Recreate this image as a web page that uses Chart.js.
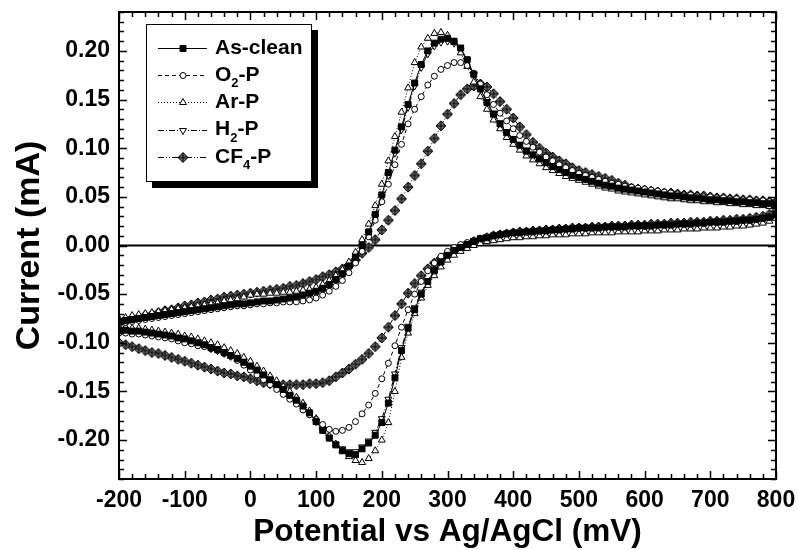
<!DOCTYPE html>
<html><head><meta charset="utf-8">
<script src="https://cdn.jsdelivr.net/npm/chart.js@4.4.0/dist/chart.umd.min.js"></script>
<style>html,body{margin:0;padding:0;background:#fff}canvas{display:block}</style>
</head><body>
<canvas id="c" width="798" height="550"></canvas>
<script>
// ---------- data ----------
const potential = [
-200,-190,-180,-170,-160,-150,-140,-130,-120,-110,
-100,-90,-80,-70,-60,-50,-40,-30,-20,-10,
0,10,20,30,40,50,60,70,80,90,
100,110,120,130,140,150,160,170,180,190,
200,210,220,230,240,250,260,270,280,290,
300,310,320,330,340,350,360,370,380,390,
400,410,420,430,440,450,460,470,480,490,
500,510,520,530,540,550,560,570,580,590,
600,610,620,630,640,650,660,670,680,690,
700,710,720,730,740,750,760,770,780,790,
800];

const seriesNames = ['As-clean', 'O₂-P', 'Ar-P', 'H₂-P', 'CF₄-P'];

// forward scan (-200 -> 800), values at each potential
const asCleanFwd = [
-0.078,-0.077,-0.076,-0.075,-0.074,-0.073,-0.072,-0.071,-0.070,-0.069,
-0.068,-0.067,-0.066,-0.065,-0.064,-0.063,-0.062,-0.061,-0.060,-0.060,
-0.059,-0.058,-0.057,-0.057,-0.056,-0.055,-0.054,-0.053,-0.051,-0.049,
-0.047,-0.044,-0.040,-0.035,-0.029,-0.021,-0.012,0.000,0.014,0.032,
0.052,0.075,0.098,0.122,0.145,0.167,0.186,0.200,0.208,0.212,
0.213,0.210,0.203,0.191,0.176,0.161,0.147,0.135,0.125,0.116,
0.109,0.103,0.097,0.093,0.089,0.085,0.081,0.078,0.075,0.072,
0.070,0.068,0.066,0.064,0.062,0.061,0.059,0.058,0.057,0.056,
0.055,0.054,0.053,0.052,0.051,0.051,0.050,0.049,0.049,0.048,
0.047,0.047,0.046,0.046,0.045,0.045,0.044,0.044,0.043,0.043,
0.043];
// reverse scan (800 -> -200), listed at each potential from -200 up
const asCleanRev = [
-0.087,-0.087,-0.088,-0.088,-0.089,-0.090,-0.091,-0.092,-0.093,-0.095,
-0.096,-0.098,-0.100,-0.102,-0.105,-0.107,-0.110,-0.113,-0.116,-0.120,
-0.124,-0.128,-0.133,-0.138,-0.143,-0.148,-0.154,-0.159,-0.165,-0.172,
-0.181,-0.190,-0.198,-0.205,-0.211,-0.214,-0.215,-0.209,-0.203,-0.195,
-0.182,-0.162,-0.136,-0.108,-0.085,-0.066,-0.050,-0.037,-0.026,-0.017,
-0.010,-0.005,-0.002,0.001,0.004,0.007,0.008,0.010,0.011,0.012,
0.013,0.013,0.014,0.014,0.015,0.015,0.016,0.016,0.017,0.017,
0.018,0.018,0.018,0.018,0.019,0.019,0.019,0.019,0.020,0.020,
0.020,0.020,0.021,0.021,0.021,0.022,0.022,0.022,0.023,0.023,
0.024,0.024,0.024,0.025,0.025,0.026,0.026,0.027,0.028,0.029,
0.032];

const o2Fwd = [
-0.080,-0.079,-0.078,-0.077,-0.076,-0.075,-0.074,-0.073,-0.072,-0.071,
-0.070,-0.069,-0.068,-0.067,-0.066,-0.065,-0.064,-0.063,-0.062,-0.062,
-0.061,-0.060,-0.060,-0.059,-0.059,-0.058,-0.058,-0.058,-0.057,-0.056,
-0.054,-0.051,-0.047,-0.042,-0.036,-0.028,-0.018,-0.006,0.009,0.026,
0.045,0.063,0.083,0.104,0.125,0.140,0.153,0.165,0.174,0.181,
0.185,0.188,0.188,0.185,0.177,0.166,0.155,0.145,0.136,0.128,
0.120,0.113,0.107,0.101,0.096,0.091,0.087,0.083,0.080,0.077,
0.074,0.072,0.070,0.068,0.066,0.064,0.063,0.061,0.060,0.059,
0.058,0.057,0.056,0.055,0.054,0.053,0.052,0.052,0.051,0.050,
0.050,0.049,0.049,0.048,0.048,0.047,0.047,0.046,0.046,0.045,
0.045];
const o2Rev = [
-0.090,-0.090,-0.091,-0.091,-0.092,-0.093,-0.094,-0.095,-0.096,-0.098,
-0.100,-0.101,-0.103,-0.104,-0.106,-0.108,-0.111,-0.114,-0.118,-0.123,
-0.128,-0.133,-0.138,-0.143,-0.148,-0.153,-0.158,-0.163,-0.169,-0.174,
-0.179,-0.184,-0.189,-0.191,-0.190,-0.187,-0.181,-0.173,-0.164,-0.152,
-0.137,-0.121,-0.103,-0.084,-0.066,-0.050,-0.037,-0.026,-0.018,-0.011,
-0.006,-0.002,0.001,0.003,0.005,0.007,0.009,0.010,0.011,0.012,
0.013,0.014,0.014,0.015,0.015,0.016,0.016,0.017,0.017,0.017,
0.018,0.018,0.018,0.019,0.019,0.019,0.019,0.020,0.020,0.020,
0.020,0.021,0.021,0.021,0.022,0.022,0.022,0.023,0.023,0.023,
0.024,0.024,0.025,0.025,0.025,0.026,0.026,0.027,0.028,0.029,
0.031];

const arFwd = [
-0.075,-0.074,-0.072,-0.071,-0.070,-0.069,-0.068,-0.067,-0.066,-0.065,
-0.064,-0.063,-0.062,-0.061,-0.060,-0.059,-0.057,-0.056,-0.055,-0.053,
-0.051,-0.050,-0.050,-0.049,-0.049,-0.048,-0.048,-0.047,-0.046,-0.045,
-0.043,-0.040,-0.036,-0.031,-0.025,-0.017,-0.007,0.006,0.022,0.041,
0.063,0.087,0.112,0.137,0.162,0.188,0.204,0.213,0.218,0.219,
0.216,0.209,0.198,0.184,0.168,0.153,0.140,0.129,0.120,0.111,
0.104,0.098,0.092,0.088,0.084,0.080,0.077,0.074,0.071,0.069,
0.067,0.065,0.063,0.061,0.059,0.058,0.056,0.055,0.054,0.053,
0.052,0.051,0.050,0.049,0.048,0.048,0.047,0.046,0.046,0.045,
0.045,0.044,0.044,0.043,0.043,0.042,0.042,0.041,0.041,0.040,
0.040];
const arRev = [
-0.084,-0.084,-0.085,-0.085,-0.086,-0.087,-0.088,-0.089,-0.090,-0.091,
-0.093,-0.094,-0.096,-0.098,-0.100,-0.102,-0.105,-0.108,-0.111,-0.115,
-0.119,-0.124,-0.129,-0.134,-0.139,-0.145,-0.150,-0.156,-0.162,-0.170,
-0.178,-0.187,-0.196,-0.204,-0.211,-0.217,-0.221,-0.223,-0.219,-0.211,
-0.200,-0.182,-0.150,-0.115,-0.090,-0.070,-0.054,-0.041,-0.031,-0.022,
-0.015,-0.010,-0.006,-0.003,0.000,0.002,0.004,0.005,0.006,0.007,
0.008,0.008,0.009,0.009,0.010,0.010,0.011,0.011,0.011,0.012,
0.012,0.012,0.013,0.013,0.013,0.013,0.014,0.014,0.014,0.014,
0.015,0.015,0.015,0.016,0.016,0.016,0.017,0.017,0.017,0.018,
0.018,0.018,0.019,0.019,0.020,0.020,0.021,0.022,0.023,0.025,
0.028];

const h2Fwd = [
-0.079,-0.078,-0.077,-0.076,-0.075,-0.074,-0.073,-0.072,-0.071,-0.070,
-0.069,-0.068,-0.067,-0.066,-0.065,-0.064,-0.063,-0.062,-0.061,-0.061,
-0.060,-0.059,-0.058,-0.057,-0.057,-0.056,-0.055,-0.054,-0.052,-0.050,
-0.048,-0.045,-0.041,-0.036,-0.030,-0.022,-0.013,-0.001,0.013,0.030,
0.050,0.072,0.095,0.119,0.142,0.164,0.183,0.197,0.205,0.209,
0.210,0.208,0.201,0.190,0.176,0.161,0.148,0.136,0.126,0.117,
0.110,0.104,0.098,0.094,0.090,0.086,0.082,0.079,0.076,0.073,
0.071,0.069,0.067,0.065,0.063,0.062,0.060,0.059,0.058,0.057,
0.056,0.055,0.054,0.053,0.052,0.052,0.051,0.050,0.050,0.049,
0.048,0.048,0.047,0.047,0.046,0.046,0.045,0.045,0.044,0.044,
0.044];
const h2Rev = [
-0.088,-0.088,-0.089,-0.089,-0.090,-0.091,-0.092,-0.093,-0.094,-0.096,
-0.097,-0.099,-0.101,-0.103,-0.106,-0.108,-0.111,-0.114,-0.117,-0.121,
-0.125,-0.129,-0.134,-0.139,-0.144,-0.149,-0.155,-0.160,-0.166,-0.173,
-0.181,-0.189,-0.197,-0.204,-0.209,-0.212,-0.212,-0.207,-0.201,-0.192,
-0.178,-0.158,-0.132,-0.105,-0.083,-0.064,-0.048,-0.036,-0.025,-0.016,
-0.009,-0.004,-0.001,0.002,0.005,0.007,0.009,0.010,0.011,0.012,
0.013,0.014,0.014,0.015,0.015,0.016,0.016,0.017,0.017,0.018,
0.018,0.018,0.019,0.019,0.019,0.020,0.020,0.020,0.020,0.021,
0.021,0.021,0.021,0.022,0.022,0.022,0.023,0.023,0.023,0.024,
0.024,0.025,0.025,0.025,0.026,0.026,0.027,0.027,0.028,0.030,
0.033];

const cf4Fwd = [
-0.080,-0.078,-0.076,-0.074,-0.072,-0.071,-0.069,-0.067,-0.066,-0.064,
-0.062,-0.061,-0.059,-0.058,-0.056,-0.055,-0.053,-0.052,-0.051,-0.050,
-0.049,-0.048,-0.047,-0.046,-0.045,-0.044,-0.042,-0.041,-0.039,-0.037,
-0.035,-0.032,-0.030,-0.027,-0.024,-0.020,-0.015,-0.008,-0.002,0.006,
0.016,0.026,0.036,0.048,0.060,0.072,0.084,0.097,0.110,0.123,
0.135,0.146,0.155,0.161,0.164,0.166,0.163,0.156,0.148,0.140,
0.131,0.122,0.114,0.106,0.100,0.095,0.091,0.087,0.084,0.080,
0.077,0.075,0.073,0.071,0.069,0.067,0.064,0.062,0.059,0.058,
0.057,0.056,0.055,0.054,0.054,0.053,0.052,0.052,0.051,0.051,
0.050,0.049,0.049,0.048,0.048,0.047,0.047,0.046,0.046,0.045,
0.045];
const cf4Rev = [
-0.100,-0.102,-0.104,-0.106,-0.108,-0.110,-0.111,-0.113,-0.115,-0.117,
-0.119,-0.121,-0.123,-0.125,-0.127,-0.129,-0.131,-0.132,-0.134,-0.135,
-0.137,-0.139,-0.141,-0.142,-0.143,-0.143,-0.143,-0.143,-0.143,-0.142,
-0.142,-0.141,-0.139,-0.135,-0.131,-0.127,-0.122,-0.117,-0.111,-0.104,
-0.095,-0.084,-0.072,-0.060,-0.049,-0.039,-0.031,-0.024,-0.018,-0.013,
-0.009,-0.005,-0.002,0.001,0.004,0.006,0.008,0.010,0.011,0.012,
0.013,0.014,0.014,0.015,0.015,0.016,0.016,0.017,0.017,0.018,
0.018,0.018,0.019,0.019,0.019,0.020,0.020,0.020,0.021,0.021,
0.021,0.022,0.022,0.022,0.023,0.023,0.023,0.024,0.024,0.024,
0.025,0.025,0.026,0.026,0.027,0.027,0.028,0.029,0.030,0.032,
0.035];

const xTickValues = [-200,-100,0,100,200,300,400,500,600,700,800];
const yTickValues = [-0.20,-0.15,-0.10,-0.05,0.00,0.05,0.10,0.15,0.20];

// ---------- styling ----------
const FONT = '"Liberation Sans", Arial, Helvetica, sans-serif';

function crossDiamond() {
  const c = document.createElement('canvas');
  c.width = 12; c.height = 12;
  const g = c.getContext('2d');
  g.translate(6, 6);
  g.beginPath();
  g.moveTo(0, -5); g.lineTo(5, 0); g.lineTo(0, 5); g.lineTo(-5, 0); g.closePath();
  g.fillStyle = '#6a6a6a'; g.fill();
  g.strokeStyle = '#000'; g.lineWidth = 1; g.stroke();
  g.beginPath();
  g.moveTo(0, -5); g.lineTo(0, 5); g.moveTo(-5, 0); g.lineTo(5, 0);
  g.stroke();
  return c;
}

function loop(fwd, rev) {
  const pts = fwd.map((v, i) => ({ x: potential[i], y: v }));
  const back = rev.map((v, i) => ({ x: potential[i], y: v })).reverse();
  return pts.concat(back);
}

const styles = [
  { dash: [], pointStyle: 'rect', radius: 4.2, fill: '#000', rot: 0 },
  { dash: [4, 3], pointStyle: 'circle', radius: 3, fill: '#fff', rot: 0 },
  { dash: [1, 2], pointStyle: 'triangle', radius: 4, fill: '#fff', rot: 0 },
  { dash: [6, 2, 1, 2], pointStyle: 'triangle', radius: 4, fill: '#fff', rot: 180 },
  { dash: [6, 2, 1, 2, 1, 2], pointStyle: crossDiamond(), radius: 5, fill: '#6a6a6a', rot: 0 }
];
const loops = [
  loop(asCleanFwd, asCleanRev),
  loop(o2Fwd, o2Rev),
  loop(arFwd, arRev),
  loop(h2Fwd, h2Rev),
  loop(cf4Fwd, cf4Rev)
];

const datasets = seriesNames.map((name, i) => ({
  label: name,
  data: loops[i],
  borderColor: '#000',
  borderWidth: 1,
  borderDash: styles[i].dash,
  pointStyle: styles[i].pointStyle,
  pointRadius: styles[i].radius,
  pointRotation: styles[i].rot,
  pointBackgroundColor: styles[i].fill,
  pointBorderColor: '#000',
  pointBorderWidth: 1,
  tension: 0,
  fill: false
}));

// ---------- plugins ----------
const framePlugin = {
  id: 'frame',
  beforeDatasetsDraw(chart) {
    const { ctx, chartArea: a, scales: { y } } = chart;
    const y0 = y.getPixelForValue(0);
    ctx.save();
    ctx.strokeStyle = '#000'; ctx.lineWidth = 2;
    ctx.beginPath(); ctx.moveTo(a.left, y0); ctx.lineTo(a.right, y0); ctx.stroke();
    ctx.restore();
  },
  afterDatasetsDraw(chart) {
    const { ctx, chartArea: a, scales: { x, y } } = chart;
    ctx.save();
    ctx.strokeStyle = '#000';
    ctx.lineWidth = 1.5;
    for (let v = -200; v <= 800; v += 20) {
      const px = Math.round(x.getPixelForValue(v)) + 0.5;
      const len = (v % 100 === 0) ? 8 : 5;
      ctx.beginPath();
      ctx.moveTo(px, a.bottom); ctx.lineTo(px, a.bottom - len);
      ctx.moveTo(px, a.top); ctx.lineTo(px, a.top + len);
      ctx.stroke();
    }
    for (let k = -24; k <= 24; k++) {
      const py = Math.round(y.getPixelForValue(k / 100)) + 0.5;
      const len = (k % 5 === 0) ? 8 : 5;
      ctx.beginPath();
      ctx.moveTo(a.left, py); ctx.lineTo(a.left + len, py);
      ctx.moveTo(a.right, py); ctx.lineTo(a.right - len, py);
      ctx.stroke();
    }
    ctx.lineWidth = 2;
    ctx.strokeRect(a.left, a.top, a.right - a.left, a.bottom - a.top);
    ctx.restore();
  }
};

function drawRich(ctx, text, x, y, size) {
  const subs = { '₂': '2', '₄': '4' };
  let cx = x;
  for (const ch of text) {
    if (subs[ch]) {
      ctx.font = 'bold ' + Math.round(size * 0.62) + 'px ' + FONT;
      ctx.fillText(subs[ch], cx, y + size * 0.4);
      cx += ctx.measureText(subs[ch]).width;
    } else {
      ctx.font = 'bold ' + size + 'px ' + FONT;
      ctx.fillText(ch, cx, y);
      cx += ctx.measureText(ch).width;
    }
  }
}

const legendPlugin = {
  id: 'boxLegend',
  afterDraw(chart) {
    const ctx = chart.ctx;
    const bx = 146, by = 24, bw = 166, bh = 158, sh = 6;
    ctx.save();
    ctx.fillStyle = '#000';
    ctx.fillRect(bx + sh, by + sh, bw, bh);
    ctx.fillStyle = '#fff';
    ctx.fillRect(bx, by, bw, bh);
    ctx.strokeStyle = '#000'; ctx.lineWidth = 1;
    ctx.strokeRect(bx + 0.5, by + 0.5, bw - 1, bh - 1);
    chart.data.datasets.forEach((ds, i) => {
      const yy = 48 + i * 27.2;
      ctx.save();
      ctx.strokeStyle = '#000'; ctx.lineWidth = 1;
      ctx.setLineDash(ds.borderDash);
      ctx.beginPath(); ctx.moveTo(158, Math.round(yy) + 0.5); ctx.lineTo(207, Math.round(yy) + 0.5); ctx.stroke();
      ctx.restore();
      ctx.fillStyle = ds.pointBackgroundColor;
      ctx.strokeStyle = '#000'; ctx.lineWidth = 1;
      Chart.helpers.drawPoint(ctx, { pointStyle: ds.pointStyle, rotation: ds.pointRotation, radius: ds.pointRadius, borderWidth: 1 }, 183, Math.round(yy) + 0.5);
      ctx.fillStyle = '#000';
      ctx.textBaseline = 'middle';
      ctx.textAlign = 'left';
      drawRich(ctx, ds.label, 215, yy, 21);
    });
    ctx.restore();
  }
};

// ---------- chart ----------
new Chart(document.getElementById('c'), {
  type: 'line',
  data: { datasets },
  options: {
    responsive: false,
    animation: false,
    devicePixelRatio: 1,
    layout: { padding: { top: 12, right: 22, left: 0, bottom: 0 } },
    plugins: { legend: { display: false }, tooltip: { enabled: false } },
    scales: {
      x: {
        type: 'linear', min: -200, max: 800,
        afterBuildTicks: s => { s.ticks = xTickValues.map(v => ({ value: v })); },
        afterFit: s => { s.height = 71; s.paddingLeft = 0; s.paddingRight = 0; },
        grid: { display: false, drawTicks: false },
        border: { display: false },
        ticks: {
          color: '#000', padding: 8, maxRotation: 0, autoSkip: false,
          font: { family: FONT, size: 23, weight: 'bold' },
          callback: v => String(v)
        },
        title: {
          display: true, text: 'Potential vs Ag/AgCl (mV)', color: '#000',
          font: { family: FONT, size: 31.5, weight: 'bold', lineHeight: 1.1 },
          padding: { top: 0, bottom: 0 }
        }
      },
      y: {
        type: 'linear', min: -0.24, max: 0.24,
        afterBuildTicks: s => { s.ticks = yTickValues.map(v => ({ value: v })); },
        afterFit: s => { s.width = 119; s.paddingTop = 0; s.paddingBottom = 0; },
        grid: { display: false, drawTicks: false },
        border: { display: false },
        ticks: {
          color: '#000', padding: 9, autoSkip: false,
          font: { family: FONT, size: 23, weight: 'bold' },
          callback: v => Number(v).toFixed(2)
        },
        title: {
          display: true, text: 'Current (mA)', color: '#000',
          font: { family: FONT, size: 34, weight: 'bold', lineHeight: 1.1 },
          padding: { top: 11, bottom: 0 }
        }
      }
    }
  },
  plugins: [framePlugin, legendPlugin]
});
</script>
</body></html>
